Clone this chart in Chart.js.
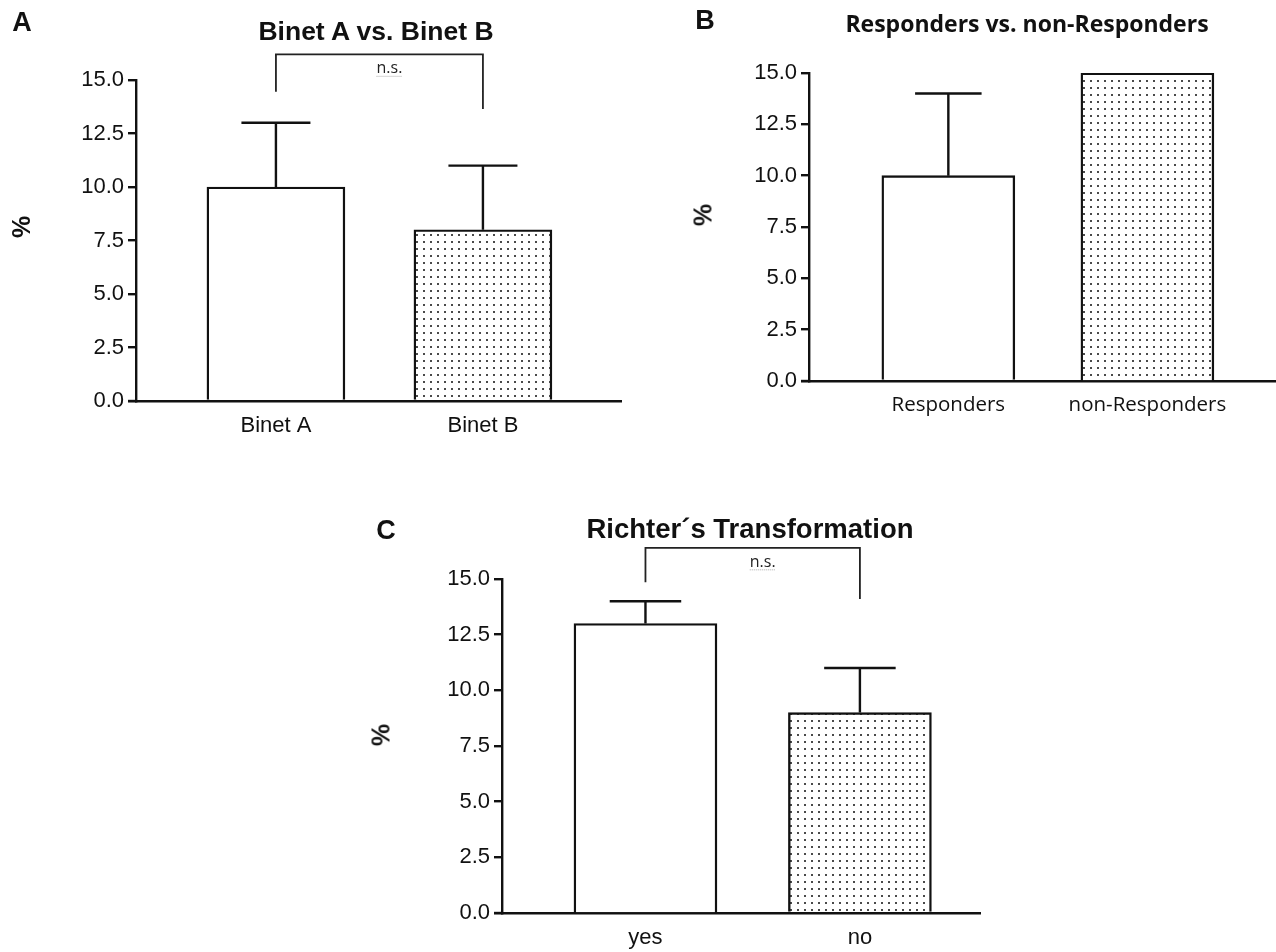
<!DOCTYPE html>
<html>
<head>
<meta charset="utf-8">
<script src="https://cdn.jsdelivr.net/npm/chart.js@4.4.1/dist/chart.umd.min.js"></script>
<style>
  body { margin: 0; background: #fff; width: 1276px; height: 952px; position: relative; overflow: hidden; }
  canvas { position: absolute; }
  .t { position: absolute; color: #111; white-space: nowrap; transform: translate(-50%, -50%); }
  .arial { font-family: "Liberation Sans", Arial, sans-serif; font-weight: bold; }
  .cal { font-family: "Open Sans", sans-serif; font-weight: bold; }
  .pct { transform: translate(-50%, -50%) rotate(-90deg); font-size: 25px; }
</style>
</head>
<body>
<canvas id="chartA" width="640" height="460" style="left:0;top:0"></canvas>
<canvas id="chartB" width="616" height="440" style="left:660px;top:0"></canvas>
<canvas id="chartC" width="640" height="452" style="left:360px;top:500px"></canvas>

<div class="t arial" style="left:22px;top:22px;font-size:27px">A</div>
<div class="t arial" style="left:376px;top:31px;font-size:26.5px">Binet A vs. Binet B</div>
<div class="t arial pct" style="left:21px;top:227px">%</div>

<div class="t arial" style="left:705px;top:20px;font-size:27px">B</div>
<div class="t cal" style="left:1027px;top:23px;font-size:23px">Responders vs. non-Responders</div>
<div class="t arial pct" style="left:703px;top:215px">%</div>

<div class="t arial" style="left:386px;top:530px;font-size:27px">C</div>
<div class="t arial" style="left:750px;top:529px;font-size:27.5px">Richter´s Transformation</div>
<div class="t arial pct" style="left:381px;top:735px">%</div>

<script>
// panel A
const catsA = ['Binet A', 'Binet B'];
const valsA = [10, 8];
const errA = [3, 3];
const bracketA = [16.2, 14.45, 13.65]; // top, left leg end, right leg end

// panel B
const catsB = ['Responders', 'non-Responders'];
const valsB = [10, 15];
const errB = [4, 0];

// panel C
const catsC = ['yes', 'no'];
const valsC = [13, 9];
const errC = [1, 2];
const bracketC = [16.4, 14.85, 14.1];

const yTicks = [0, 2.5, 5, 7.5, 10, 12.5, 15];

function dots(ctx) {
  const c = document.createElement('canvas');
  c.width = 7; c.height = 7;
  const g = c.getContext('2d');
  g.fillStyle = '#fff';
  g.fillRect(0, 0, 7, 7);
  g.fillStyle = '#4a4a4a';
  g.fillRect(3, 3, 2, 2);
  return ctx.createPattern(c, 'repeat');
}

const extras = {
  id: 'extras',
  afterDatasetsDraw(chart, args, o) {
    const ctx = chart.ctx, x = chart.scales.x, y = chart.scales.y;
    const meta = chart.getDatasetMeta(0);
    const vals = chart.data.datasets[0].data;
    const y0 = y.getPixelForValue(0);
    ctx.save();
    ctx.strokeStyle = '#111';
    ctx.lineWidth = 2.4;
    // axis stub left of the y axis
    ctx.beginPath();
    ctx.moveTo(chart.chartArea.left - 8, y0);
    ctx.lineTo(chart.chartArea.left, y0);
    ctx.stroke();
    // error bars (upper only)
    o.err.forEach((e, i) => {
      if (!e) return;
      const px = meta.data[i].x;
      const yb = y.getPixelForValue(vals[i].y), yt = y.getPixelForValue(vals[i].y + e);
      ctx.beginPath();
      ctx.moveTo(px, yb);
      ctx.lineTo(px, yt);
      ctx.moveTo(px - o.cap, yt);
      ctx.lineTo(px + o.cap, yt);
      ctx.stroke();
    });
    // significance bracket
    if (o.bracket) {
      const [top, l, r] = o.bracket;
      const xl = x.getPixelForValue(1), xr = x.getPixelForValue(2), yt = y.getPixelForValue(top);
      ctx.lineWidth = 1.8;
      ctx.strokeStyle = '#222';
      ctx.beginPath();
      ctx.moveTo(xl, y.getPixelForValue(l));
      ctx.lineTo(xl, yt);
      ctx.lineTo(xr, yt);
      ctx.lineTo(xr, y.getPixelForValue(r));
      ctx.stroke();
      const cx = (xl + xr) / 2 + 10, by = yt + 19;
      ctx.font = '16px "Open Sans"';
      ctx.fillStyle = '#222';
      ctx.textAlign = 'center';
      ctx.fillText('n.s.', cx, by);
      const w = ctx.measureText('n.s.').width;
      ctx.strokeStyle = '#aaa';
      ctx.lineWidth = 1;
      ctx.setLineDash([1, 1]);
      ctx.beginPath();
      ctx.moveTo(cx - w / 2, by + 3);
      ctx.lineTo(cx + w / 2, by + 3);
      ctx.stroke();
    }
    ctx.restore();
  }
};

function makeChart(id, cats, vals, err, bracket, box, xRange, barW, labelFont, labelPad) {
  const cv = document.getElementById(id);
  const ctx = cv.getContext('2d');
  return new Chart(ctx, {
    type: 'bar',
    data: {
      datasets: [{
        data: vals.map((v, i) => ({ x: i + 1, y: v })),
        backgroundColor: ['#fff', dots(ctx)],
        borderColor: '#111',
        borderWidth: 2.4,
        barThickness: barW
      }]
    },
    options: {
      responsive: false,
      animation: false,
      layout: { padding: { top: box.top, right: cv.width - box.right, bottom: 0, left: 0 } },
      plugins: {
        legend: { display: false },
        tooltip: { enabled: false },
        extras: { err: err, cap: barW / 4, bracket: bracket }
      },
      scales: {
        x: {
          type: 'linear',
          offset: false,
          min: xRange[0],
          max: xRange[1],
          afterBuildTicks: s => { s.ticks = cats.map((c, i) => ({ value: i + 1 })); },
          afterFit: s => { s.height = cv.height - box.bottom; },
          ticks: {
            callback: v => cats[v - 1],
            autoSkip: false,
            maxRotation: 0,
            padding: labelPad,
            color: '#111',
            font: labelFont
          },
          grid: { drawOnChartArea: false, drawTicks: false, offset: false },
          border: { color: '#111', width: 2.4 }
        },
        y: {
          min: 0,
          max: 15,
          afterBuildTicks: s => { s.ticks = yTicks.map(v => ({ value: v })); },
          afterFit: s => { s.width = box.left; },
          ticks: {
            callback: v => v.toFixed(1),
            padding: 4,
            color: '#111',
            font: { family: '"Liberation Sans", Arial', size: 22 }
          },
          grid: { drawOnChartArea: false, tickLength: 8, color: '#111', lineWidth: 2.4 },
          border: { color: '#111', width: 2.4 }
        }
      }
    },
    plugins: [extras]
  });
}

const arialLbl = { family: '"Liberation Sans", Arial', size: 22 };
makeChart('chartA', catsA, valsA, errA, bracketA, { left: 136, right: 621, top: 80, bottom: 401 }, [0.324, 2.667], 138, arialLbl, 12);
makeChart('chartB', catsB, valsB, errB, null, { left: 149, right: 616, top: 73, bottom: 381 }, [0.30, 2.646], 133, { family: '"Open Sans"', size: 20.5 }, 12);
makeChart('chartC', catsC, valsC, errC, bracketC, { left: 142, right: 620, top: 79, bottom: 413 }, [0.331, 2.56], 143, arialLbl, 12);
</script>
</body>
</html>
